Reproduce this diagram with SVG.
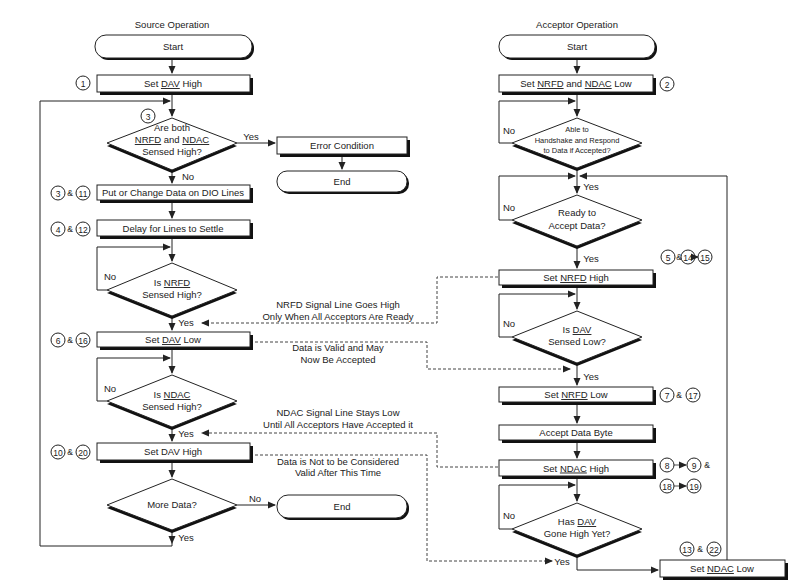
<svg xmlns="http://www.w3.org/2000/svg" width="800" height="587" viewBox="0 0 800 587">
<style>
text{font-family:"Liberation Sans",Arial,sans-serif;font-size:9.5px;fill:#222;text-anchor:middle}
.s text,.sm{font-size:8.5px}
.u{text-decoration:underline}
.bx{fill:#fff;stroke:#222;stroke-width:1}
.sh{fill:#111}
.c{fill:#fff;stroke:#222;stroke-width:1}
.ln{fill:none;stroke:#222;stroke-width:1}
.da{fill:none;stroke:#444;stroke-width:1;stroke-dasharray:3,2}
</style>
<defs>
<marker id="a" markerWidth="8" markerHeight="8" refX="7" refY="4" orient="auto" markerUnits="userSpaceOnUse"><path d="M0,0.5 L8,4 L0,7.5 Z" fill="#222"/></marker>
</defs>
<rect width="800" height="587" fill="#fff"/>
<text x="172" y="28">Source Operation</text>
<text x="577" y="28">Acceptor Operation</text>

<g id="connectors">
<path class="ln" d="M172,58V73" marker-end="url(#a)"/>
<path class="ln" d="M172,92V116" marker-end="url(#a)"/>
<path class="ln" d="M172,530V543" marker-end="url(#a)"/>
<path class="ln" d="M172,543V546H40V101H170" marker-end="url(#a)"/>
<path class="ln" d="M237,143H275" marker-end="url(#a)"/>
<path class="ln" d="M342,154V169" marker-end="url(#a)"/>
<path class="ln" d="M172,170V183" marker-end="url(#a)"/>
<path class="ln" d="M172,200V218" marker-end="url(#a)"/>
<path class="ln" d="M172,236V261" marker-end="url(#a)"/>
<path class="ln" d="M107,290H97V247H170" marker-end="url(#a)"/>
<path class="ln" d="M172,316V330" marker-end="url(#a)"/>
<path class="ln" d="M172,347V373" marker-end="url(#a)"/>
<path class="ln" d="M107,401H97V358H170" marker-end="url(#a)"/>
<path class="ln" d="M172,427V441" marker-end="url(#a)"/>
<path class="ln" d="M172,460V477" marker-end="url(#a)"/>
<path class="ln" d="M237,505H275" marker-end="url(#a)"/>
<path class="da" d="M498,277H437V323H202" marker-end="url(#a)"/>
<path class="da" d="M255,342H427V369H570" marker-end="url(#a)"/>
<path class="da" d="M498,467H437V433H202" marker-end="url(#a)"/>
<path class="da" d="M255,455H427V561H552" marker-end="url(#a)"/>
<path class="ln" d="M577,58V73" marker-end="url(#a)"/>
<path class="ln" d="M577,92V116" marker-end="url(#a)"/>
<path class="ln" d="M512,143H499V101H575" marker-end="url(#a)"/>
<path class="ln" d="M577,168V193" marker-end="url(#a)"/>
<path class="ln" d="M512,220H499V176H575" marker-end="url(#a)"/>
<path class="ln" d="M727,560V176H580" marker-end="url(#a)"/>
<path class="ln" d="M577,246V268" marker-end="url(#a)"/>
<path class="ln" d="M577,285V309" marker-end="url(#a)"/>
<path class="ln" d="M512,337H499V294H575" marker-end="url(#a)"/>
<path class="ln" d="M577,363V385" marker-end="url(#a)"/>
<path class="ln" d="M577,402V423" marker-end="url(#a)"/>
<path class="ln" d="M577,440V458" marker-end="url(#a)"/>
<path class="ln" d="M577,476V501" marker-end="url(#a)"/>
<path class="ln" d="M512,529H499V485H575" marker-end="url(#a)"/>
<path class="ln" d="M577,555V570H658" marker-end="url(#a)"/>
<text x="251" y="140">Yes</text>
<text x="188" y="180">No</text>
<text x="104" y="280" text-anchor="start" style="text-anchor:start">No</text>
<text x="186" y="326">Yes</text>
<text x="104" y="392" style="text-anchor:start">No</text>
<text x="186" y="437">Yes</text>
<text x="255" y="502">No</text>
<text x="186" y="541">Yes</text>
<text x="503" y="134" style="text-anchor:start">No</text>
<text x="591" y="190">Yes</text>
<text x="503" y="211" style="text-anchor:start">No</text>
<text x="591" y="262">Yes</text>
<text x="503" y="327" style="text-anchor:start">No</text>
<text x="591" y="380">Yes</text>
<text x="503" y="519" style="text-anchor:start">No</text>
<text x="562" y="565">Yes</text>
<text x="338" y="308">NRFD Signal Line Goes High</text>
<text x="338" y="320">Only When All Acceptors Are Ready</text>
<text x="338" y="351">Data is Valid and May</text>
<text x="338" y="363">Now Be Accepted</text>
<text x="338" y="416">NDAC Signal Line Stays Low</text>
<text x="338" y="428">Until All Acceptors Have Accepted it</text>
<text x="338" y="465">Data is Not to be Considered</text>
<text x="338" y="476">Valid After This Time</text>
</g>

<g id="s-start"><rect class="sh" x="97" y="37" width="157" height="23" rx="11"/><rect class="bx" x="95" y="35" width="157" height="23" rx="11"/><text x="173" y="50">Start</text></g>
<g id="s-setdavhigh"><rect class="sh" x="100" y="78" width="153" height="17"/><rect class="bx" x="97" y="75" width="153" height="17"/><text x="173" y="87">Set <tspan class="u">DAV</tspan> High</text><circle class="c" cx="83" cy="83" r="7"/><text x="83" y="86.5" class="sm">1</text></g>
<g id="s-both"><path class="sh" d="M172,121L237,146L172,173L107,146Z"/><path class="bx" d="M172,118L237,143L172,170L107,143Z"/><text x="172" y="131">Are both</text><text x="172" y="143"><tspan class="u">NRFD</tspan> and <tspan class="u">NDAC</tspan></text><text x="172" y="155">Sensed High?</text><circle class="c" cx="148" cy="116" r="7"/><text x="148" y="119.5" class="sm">3</text></g>
<g id="s-error"><rect class="sh" x="280" y="140" width="130" height="17"/><rect class="bx" x="277" y="137" width="130" height="17"/><text x="342" y="149">Error Condition</text></g>
<g id="s-end1"><rect class="sh" x="279" y="173" width="130" height="21" rx="10"/><rect class="bx" x="277" y="171" width="130" height="21" rx="10"/><text x="342" y="185">End</text></g>
<g id="s-put"><rect class="sh" x="100" y="188" width="153" height="15"/><rect class="bx" x="97" y="185" width="153" height="15"/><text x="173" y="196">Put or Change Data on DIO Lines</text><circle class="c" cx="58" cy="193" r="7"/><text x="58" y="196.5" class="sm">3</text><text x="70" y="196" class="sm">&amp;</text><circle class="c" cx="83" cy="193" r="7"/><text x="83" y="196.5" class="sm">11</text></g>
<g id="s-delay"><rect class="sh" x="100" y="223" width="153" height="16"/><rect class="bx" x="97" y="220" width="153" height="16"/><text x="173" y="231.5">Delay for Lines to Settle</text><circle class="c" cx="58" cy="229" r="7"/><text x="58" y="232.5" class="sm">4</text><text x="70" y="232" class="sm">&amp;</text><circle class="c" cx="83" cy="229" r="7"/><text x="83" y="232.5" class="sm">12</text></g>
<g id="s-nrfd"><path class="sh" d="M172,266L237,293L172,319L107,293Z"/><path class="bx" d="M172,263L237,290L172,316L107,290Z"/><text x="172" y="286">Is <tspan class="u">NRFD</tspan></text><text x="172" y="298">Sensed High?</text></g>
<g id="s-davlow"><rect class="sh" x="100" y="335" width="153" height="15"/><rect class="bx" x="97" y="332" width="153" height="15"/><text x="173" y="343">Set <tspan class="u">DAV</tspan> Low</text><circle class="c" cx="58" cy="340" r="7"/><text x="58" y="343.5" class="sm">6</text><text x="70" y="343" class="sm">&amp;</text><circle class="c" cx="83" cy="340" r="7"/><text x="83" y="343.5" class="sm">16</text></g>
<g id="s-ndac"><path class="sh" d="M172,378L237,404L172,430L107,404Z"/><path class="bx" d="M172,375L237,401L172,427L107,401Z"/><text x="172" y="398">Is <tspan class="u">NDAC</tspan></text><text x="172" y="410">Sensed High?</text></g>
<g id="s-davhigh2"><rect class="sh" x="100" y="446" width="153" height="17"/><rect class="bx" x="97" y="443" width="153" height="17"/><text x="173" y="455">Set DAV High</text><circle class="c" cx="58" cy="452" r="7"/><text x="58" y="455.5" class="sm">10</text><text x="70" y="455" class="sm">&amp;</text><circle class="c" cx="83" cy="452" r="7"/><text x="83" y="455.5" class="sm">20</text></g>
<g id="s-more"><path class="sh" d="M172,482L237,508L172,533L107,508Z"/><path class="bx" d="M172,479L237,505L172,530L107,505Z"/><text x="172" y="508">More Data?</text></g>
<g id="s-end2"><rect class="sh" x="279" y="497" width="130" height="23" rx="11"/><rect class="bx" x="277" y="495" width="130" height="23" rx="11"/><text x="342" y="510">End</text></g>

<g id="a-start"><rect class="sh" x="501" y="37" width="156" height="23" rx="11"/><rect class="bx" x="499" y="35" width="156" height="23" rx="11"/><text x="577" y="50">Start</text></g>
<g id="a-setlow"><rect class="sh" x="502" y="78" width="154" height="17"/><rect class="bx" x="499" y="75" width="154" height="17"/><text x="576" y="87">Set <tspan class="u">NRFD</tspan> and <tspan class="u">NDAC</tspan> Low</text><circle class="c" cx="667" cy="84" r="7"/><text x="667" y="87.5" class="sm">2</text></g>
<g id="a-able" class="s"><path class="sh" d="M577,121L642,146L577,171L512,146Z"/><path class="bx" d="M577,118L642,143L577,168L512,143Z"/><text x="577" y="132" style="font-size:7.5px">Able to</text><text x="577" y="143" style="font-size:7.5px">Handshake and Respond</text><text x="577" y="153" style="font-size:7.5px">to Data if Accepted?</text></g>
<g id="a-ready"><path class="sh" d="M577,198L642,223L577,249L512,223Z"/><path class="bx" d="M577,195L642,220L577,246L512,220Z"/><text x="577" y="216">Ready to</text><text x="577" y="229">Accept Data?</text></g>
<g id="a-nrfdhigh"><rect class="sh" x="502" y="273" width="154" height="15"/><rect class="bx" x="499" y="270" width="154" height="15"/><text x="576" y="281">Set <tspan class="u">NRFD</tspan> High</text><circle class="c" cx="668" cy="257" r="7"/><text x="668" y="260.5" class="sm">5</text><text x="679" y="260" class="sm">&amp;</text><circle class="c" cx="688" cy="257" r="7"/><text x="688" y="260.5" class="sm">14</text><path class="ln" d="M695,257H698" marker-end="url(#a)" style="stroke-width:0.8"/><circle class="c" cx="705" cy="257" r="7"/><text x="705" y="260.5" class="sm">15</text></g>
<g id="a-davlow"><path class="sh" d="M577,314L642,340L577,366L512,340Z"/><path class="bx" d="M577,311L642,337L577,363L512,337Z"/><text x="577" y="333">Is <tspan class="u">DAV</tspan></text><text x="577" y="345">Sensed Low?</text></g>
<g id="a-nrfdlow"><rect class="sh" x="502" y="390" width="154" height="15"/><rect class="bx" x="499" y="387" width="154" height="15"/><text x="576" y="398">Set <tspan class="u">NRFD</tspan> Low</text><circle class="c" cx="667" cy="395" r="7"/><text x="667" y="398.5" class="sm">7</text><text x="679" y="398" class="sm">&amp;</text><circle class="c" cx="693" cy="395" r="7"/><text x="693" y="398.5" class="sm">17</text></g>
<g id="a-accept"><rect class="sh" x="502" y="428" width="154" height="15"/><rect class="bx" x="499" y="425" width="154" height="15"/><text x="576" y="436">Accept Data Byte</text></g>
<g id="a-ndachigh"><rect class="sh" x="502" y="463" width="154" height="16"/><rect class="bx" x="499" y="460" width="154" height="16"/><text x="576" y="471.5">Set <tspan class="u">NDAC</tspan> High</text><circle class="c" cx="667" cy="465" r="7"/><text x="667" y="468.5" class="sm">8</text><path class="ln" d="M674,465H686" marker-end="url(#a)" style="stroke-width:0.8"/><circle class="c" cx="694" cy="465" r="7"/><text x="694" y="468.5" class="sm">9</text><text x="707" y="468" class="sm">&amp;</text><circle class="c" cx="667" cy="486" r="7"/><text x="667" y="489.5" class="sm">18</text><path class="ln" d="M674,486H686" marker-end="url(#a)" style="stroke-width:0.8"/><circle class="c" cx="694" cy="486" r="7"/><text x="694" y="489.5" class="sm">19</text></g>
<g id="a-hasdav"><path class="sh" d="M577,506L642,532L577,558L512,532Z"/><path class="bx" d="M577,503L642,529L577,555L512,529Z"/><text x="577" y="525">Has <tspan class="u">DAV</tspan></text><text x="577" y="537">Gone High Yet?</text></g>
<g id="a-ndaclow"><rect class="sh" x="663" y="563" width="125" height="17"/><rect class="bx" x="660" y="560" width="125" height="17"/><text x="722" y="572">Set <tspan class="u">NDAC</tspan> Low</text><circle class="c" cx="687" cy="549" r="7"/><text x="687" y="552.5" class="sm">13</text><text x="700" y="552" class="sm">&amp;</text><circle class="c" cx="714" cy="549" r="7"/><text x="714" y="552.5" class="sm">22</text></g>
</svg>
